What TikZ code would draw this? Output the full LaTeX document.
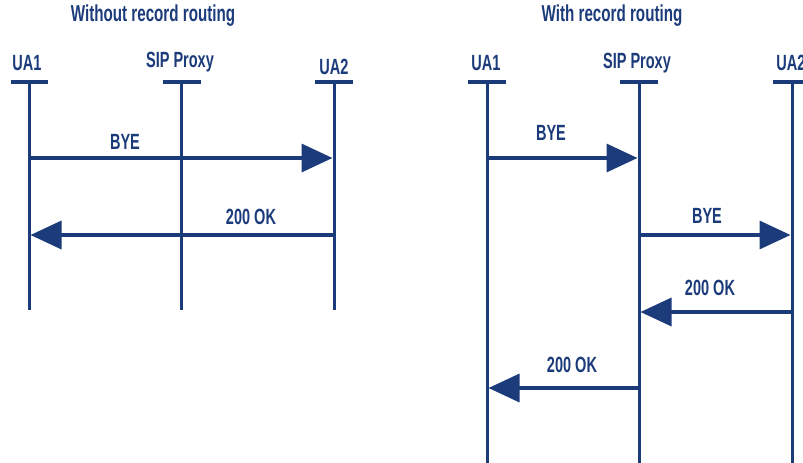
\documentclass[tikz,border=0pt]{standalone}
\usepackage{fontspec}
\setmainfont{Liberation Sans}[FakeStretch=0.66]
\usetikzlibrary{arrows.meta}
\definecolor{sipblue}{RGB}{27,59,122}
\tikzset{
  lbl/.style={text=sipblue, font=\bfseries\fontsize{22}{26}\selectfont, inner sep=0pt, anchor=center},
  ttl/.style={lbl, font=\bfseries\fontsize{23}{27}\selectfont},
  life/.style={draw=sipblue, line width=3pt},
  tbar/.style={draw=sipblue, line width=4pt},
  msg/.style={draw=sipblue, line width=3.5pt, -{Triangle[length=31pt,width=28pt]}, shorten >=1.5pt}
}
\begin{document}
\begin{tikzpicture}[x=1pt,y=-1pt]
\useasboundingbox (0,0) rectangle (803,463);
% ---- Left diagram
\node[ttl] (t1) at (153,16) {Without record routing};
\node[lbl] (la1) at (27,63) {UA1};
\node[lbl] (lp) at (180,62) {SIP Proxy};
\node[lbl] (la2) at (334,67) {UA2};
\coordinate (la1t) at (29,82); \coordinate (la1b) at (29,310);
\coordinate (lpt) at (181,82); \coordinate (lpb) at (181,310);
\coordinate (la2t) at (334,82); \coordinate (la2b) at (334,310);
\draw[tbar] (10.5,82) -- (47.5,82);
\draw[tbar] (162.5,82) -- (200.5,82);
\draw[tbar] (315,82) -- (353,82);
\draw[life] (la1t) -- (la1b);
\draw[life] (lpt) -- (lpb);
\draw[life] (la2t) -- (la2b);
\coordinate (lm1s) at (29,158); \coordinate (lm1e) at (334,158);
\coordinate (lm2s) at (334,235); \coordinate (lm2e) at (29,235);
\draw[msg] (lm1s) -- (lm1e);
\draw[msg] (lm2s) -- (lm2e);
\node[lbl] (lbye) at (125,142) {BYE};
\node[lbl] (lok) at (251,217) {200 OK};
% ---- Right diagram
\node[ttl] (t2) at (612,16) {With record routing};
\node[lbl] (ra1) at (486,63) {UA1};
\node[lbl] (rp) at (637,63) {SIP Proxy};
\node[lbl] (ra2) at (791,63) {UA2};
\coordinate (ra1t) at (487,82); \coordinate (ra1b) at (487,463);
\coordinate (rpt) at (639,82); \coordinate (rpb) at (639,463);
\coordinate (ra2t) at (792,82); \coordinate (ra2b) at (792,463);
\draw[tbar] (468,82) -- (506,82);
\draw[tbar] (620,82) -- (658,82);
\draw[tbar] (773,82) -- (811,82);
\draw[life] (ra1t) -- (ra1b);
\draw[life] (rpt) -- (rpb);
\draw[life] (ra2t) -- (ra2b);
\coordinate (rm1s) at (487,158); \coordinate (rm1e) at (639,158);
\coordinate (rm2s) at (639,235); \coordinate (rm2e) at (792,235);
\coordinate (rm3s) at (792,312); \coordinate (rm3e) at (639,312);
\coordinate (rm4s) at (639,388); \coordinate (rm4e) at (487,388);
\draw[msg] (rm1s) -- (rm1e);
\draw[msg] (rm2s) -- (rm2e);
\draw[msg] (rm3s) -- (rm3e);
\draw[msg] (rm4s) -- (rm4e);
\node[lbl] (rbye1) at (551,133) {BYE};
\node[lbl] (rbye2) at (707,216) {BYE};
\node[lbl] (rok1) at (710,288) {200 OK};
\node[lbl] (rok2) at (572,365) {200 OK};
\end{tikzpicture}
\end{document}
